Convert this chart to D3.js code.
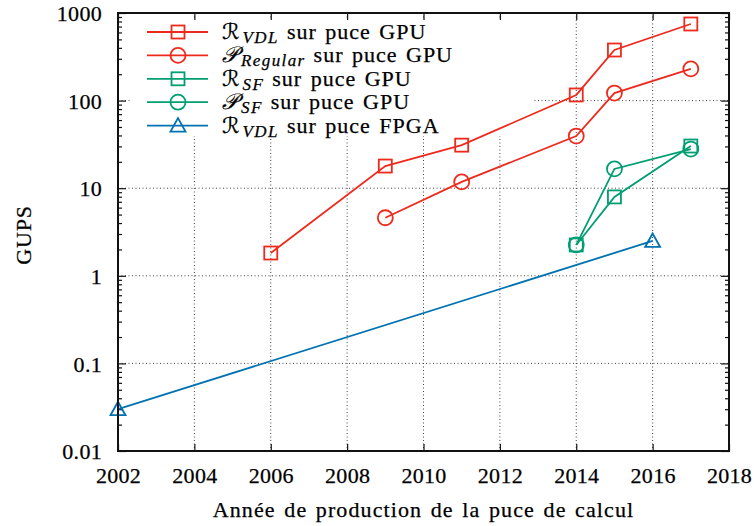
<!DOCTYPE html>
<html>
<head>
<meta charset="utf-8">
<script src="https://cdn.jsdelivr.net/npm/d3@7"></script>
<style>
  body { margin: 0; background: #fff; }
  svg text { font-family: "Liberation Serif", "Times New Roman", Times, "DejaVu Serif", serif; fill: #000; stroke: #000; stroke-width: 0.25px; }
</style>
</head>
<body>
<script>
// data
var years = [2002, 2004, 2006, 2008, 2010, 2012, 2014, 2016, 2018];
var yTicks = [0.01, 0.1, 1, 10, 100, 1000];

var rvdlGpuYears = [2006, 2009, 2011, 2014, 2015, 2017];
var rvdlGpuVals  = [1.82, 17.9, 31, 116, 378, 749];

var pRegYears = [2009, 2011, 2014, 2015, 2017];
var pRegVals  = [4.6, 11.8, 39.4, 122, 230];

var rsfYears = [2014, 2015, 2017];
var rsfVals  = [2.25, 7.95, 30.3];

var psfYears = [2014, 2015, 2017];
var psfVals  = [2.25, 16.6, 28];

var rvdlFpgaYears = [2002, 2016];
var rvdlFpgaVals  = [0.030, 2.5];

var red = "#ee2a1d", green = "#009e73", blue = "#0072b2";
var serif = "'Liberation Serif', 'Times New Roman', Times, 'DejaVu Serif', serif";

var series = [
  {x: rvdlGpuYears, y: rvdlGpuVals, color: red, marker: "square", sym: "\u211B", sub: "VDL", rest: "sur puce GPU"},
  {x: pRegYears, y: pRegVals, color: red, marker: "circle", sym: "\uD835\uDCAB", sub: "Regular", rest: "sur puce GPU"},
  {x: rsfYears, y: rsfVals, color: green, marker: "square", sym: "\u211B", sub: "SF", rest: "sur puce GPU"},
  {x: psfYears, y: psfVals, color: green, marker: "circle", sym: "\uD835\uDCAB", sub: "SF", rest: "sur puce GPU"},
  {x: rvdlFpgaYears, y: rvdlFpgaVals, color: blue, marker: "triangle", sym: "\u211B", sub: "VDL", rest: "sur puce FPGA"}
];

var margin = {top: 13, bottom: 75, right: 25, left: 118};
var W = 754, H = 526;
var width = W - margin.left - margin.right;
var height = H - margin.top - margin.bottom;

var xScale = d3.scaleLinear().domain([2002, 2018]).range([0, width]);
var yScale = d3.scaleLog().domain([0.01, 1000]).range([height, 0]);

var svg = d3.select("body").append("svg")
  .attr("width", W).attr("height", H)
  .attr("font-family", serif);

var g = svg.append("g")
  .attr("transform", "translate(" + margin.left + "," + margin.top + ")");

// grid
g.append("g").selectAll("line")
  .data(years.slice(1, -1)).enter().append("line")
  .attr("x1", function(d){ return xScale(d); })
  .attr("x2", function(d){ return xScale(d); })
  .attr("y1", 0).attr("y2", height)
  .attr("stroke", "#444").attr("stroke-width", 1).attr("stroke-dasharray", "1,2.5");

g.append("g").selectAll("line")
  .data(yTicks.slice(1, -1)).enter().append("line")
  .attr("y1", function(d){ return yScale(d); })
  .attr("y2", function(d){ return yScale(d); })
  .attr("x1", 0).attr("x2", width)
  .attr("stroke", "#444").attr("stroke-width", 1).attr("stroke-dasharray", "1,2.5");

// minor ticks on log axis
var minor = [];
yTicks.slice(0, -1).forEach(function(d){
  for (var k = 2; k <= 9; k++) minor.push(d * k);
});

var xAxisB = d3.axisBottom(xScale).tickValues(years).tickFormat(d3.format("d"))
  .tickSizeInner(-7).tickSizeOuter(0).tickPadding(16);
var xAxisT = d3.axisTop(xScale).tickValues(years).tickFormat("").tickSizeInner(-7).tickSizeOuter(0);
var yAxisL = d3.axisLeft(yScale).tickValues(yTicks).tickFormat(function(d){ return d3.format("~g")(d); })
  .tickSizeInner(-8).tickSizeOuter(0).tickPadding(16);
var yAxisR = d3.axisRight(yScale).tickValues(yTicks).tickFormat("").tickSizeInner(-8).tickSizeOuter(0);

function styleAxis(sel) {
  sel.attr("font-family", serif).attr("font-size", 22);
  sel.select(".domain").remove();
  sel.selectAll("line").attr("stroke", "#111").attr("stroke-width", 1.2);
  sel.selectAll("text").style("letter-spacing", "0.3px");
}

g.append("g").attr("transform", "translate(0," + height + ")").call(xAxisB).call(styleAxis);
g.append("g").call(xAxisT).call(styleAxis);
g.append("g").call(yAxisL).call(styleAxis)
  .selectAll("text").attr("dy", "0.35em");
g.append("g").attr("transform", "translate(" + width + ",0)").call(yAxisR).call(styleAxis);

g.append("g").call(d3.axisLeft(yScale).tickValues(minor).tickFormat("").tickSizeInner(-4).tickSizeOuter(0)).call(styleAxis);
g.append("g").attr("transform", "translate(" + width + ",0)")
  .call(d3.axisRight(yScale).tickValues(minor).tickFormat("").tickSizeInner(-4).tickSizeOuter(0)).call(styleAxis);

// legend background box hides grid
var leg = g.append("g").attr("transform", "translate(14,7)");
leg.append("rect").attr("x", 0).attr("y", 0).attr("width", 400).attr("height", 116).attr("fill", "#fff");

// draws a marker centred at (0,0)
function drawMarker(sel, type, color) {
  if (type === "square") {
    sel.append("rect").attr("x", -6.5).attr("y", -6.5).attr("width", 13).attr("height", 13)
      .attr("fill", "none").attr("stroke", color).attr("stroke-width", 1.8);
  } else if (type === "circle") {
    sel.append("circle").attr("r", 7.5)
      .attr("fill", "none").attr("stroke", color).attr("stroke-width", 1.8);
  } else {
    sel.append("path").attr("d", "M 0 -7.5 L 7.5 6 L -7.5 6 Z")
      .attr("fill", "none").attr("stroke", color).attr("stroke-width", 1.8);
  }
}

var line = d3.line()
  .x(function(d){ return xScale(d[0]); })
  .y(function(d){ return yScale(d[1]); });

// series
series.forEach(function(s){
  var pts = s.x.map(function(v, i){ return [v, s.y[i]]; });
  g.append("path").attr("d", line(pts))
    .attr("fill", "none").attr("stroke", s.color).attr("stroke-width", 1.8);
  pts.forEach(function(p){
    var m = g.append("g").attr("transform", "translate(" + xScale(p[0]) + "," + yScale(p[1]) + ")");
    drawMarker(m, s.marker, s.color);
  });
});

// legend rows: one text per row, symbol / subscript / rest as tspans
series.forEach(function(s, i){
  var row = leg.append("g").attr("transform", "translate(0," + (12 + i * 23.4) + ")");
  row.append("line").attr("x1", 15).attr("x2", 76).attr("y1", 0).attr("y2", 0)
    .attr("stroke", s.color).attr("stroke-width", 1.8);
  var m = row.append("g").attr("transform", "translate(46,0)");
  drawMarker(m, s.marker, s.color);
  var t = row.append("text").attr("x", 90).attr("y", 7).attr("font-size", 22);
  t.append("tspan").attr("font-family", "'DejaVu Serif', 'DejaVu Sans', serif").attr("font-style", "italic")
    .style("letter-spacing", "3px").text(s.sym);
  t.append("tspan").attr("font-style", "italic").attr("font-size", 17).attr("dy", 4)
    .style("letter-spacing", "1.4px").text(s.sub);
  t.append("tspan").attr("dy", -4).attr("dx", 8)
    .style("letter-spacing", "1px").style("word-spacing", "2px").text(s.rest);
});

// border
g.append("rect").attr("width", width).attr("height", height)
  .attr("fill", "none").attr("stroke", "#111").attr("stroke-width", 2);

// axis titles
svg.append("text").attr("x", margin.left + width / 2).attr("y", 517)
  .attr("text-anchor", "middle").attr("font-size", 22)
  .style("letter-spacing", "1.1px").style("word-spacing", "2px")
  .text("Année de production de la puce de calcul");

svg.append("text")
  .attr("transform", "translate(31," + 235 + ") rotate(-90)")
  .attr("text-anchor", "middle").attr("font-size", 22).style("letter-spacing", "0.8px")
  .text("GUPS");
</script>
</body>
</html>
